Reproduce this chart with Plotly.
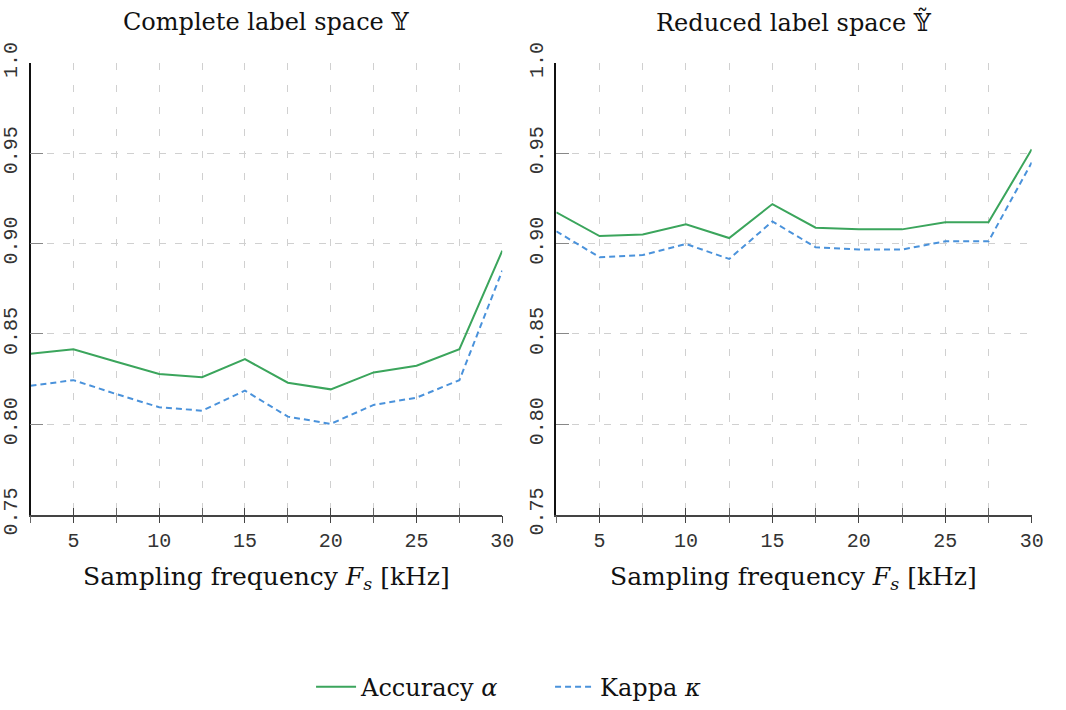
import plotly.graph_objects as go

# ---- data ----
fs_khz = [2.5, 5, 7.5, 10, 12.5, 15, 17.5, 20, 22.5, 25, 27.5, 30]

acc_complete = [0.839, 0.8415, 0.8346, 0.8278, 0.826, 0.836, 0.823, 0.8193, 0.8287, 0.8324, 0.8415, 0.8961]
kappa_complete = [0.8213, 0.8244, 0.8167, 0.8094, 0.8075, 0.8186, 0.8042, 0.8002, 0.8107, 0.8147, 0.8244, 0.8851]

acc_reduced = [0.9173, 0.9042, 0.9051, 0.9107, 0.9031, 0.9219, 0.9088, 0.9079, 0.9079, 0.9118, 0.9118, 0.9522]
kappa_reduced = [0.9068, 0.8925, 0.8937, 0.8998, 0.8915, 0.9123, 0.898, 0.8967, 0.8967, 0.9013, 0.9013, 0.9449]

x_tickvals = [5, 10, 15, 20, 25, 30]
x_ticktext = ["5", "10", "15", "20", "25", "30"]
y_tickvals = [0.75, 0.80, 0.85, 0.90, 0.95, 1.0]
y_ticktext = ["0.75", "0.80", "0.85", "0.90", "0.95", "1.0"]

panel_titles = ["Complete label space \U0001D550", "Reduced label space \U0001D550\u0303"]
x_title = "Sampling frequency <i>F</i><sub><i>s</i></sub> [kHz]"
series_names = ["Accuracy <i>\u03b1</i>", "Kappa <i>\u03ba</i>"]

GREEN = "#3ba55c"
BLUE = "#4a92db"
SERIF = "DejaVu Serif, Liberation Serif, serif"
MONO = "Liberation Mono, DejaVu Sans Mono, monospace"

W, H = 1066, 710
x_domains = [[30.5 / W, 502.3 / W], [556.3 / W, 1031.7 / W]]
y_domain = [(H - 516.7) / H, (H - 63.3) / H]

fig = go.Figure()

panels = [(acc_complete, kappa_complete), (acc_reduced, kappa_reduced)]
for i, (acc, kap) in enumerate(panels):
    xa = "x" if i == 0 else "x2"
    ya = "y" if i == 0 else "y2"
    fig.add_trace(go.Scatter(x=fs_khz, y=acc, mode="lines", name=series_names[0],
                             line=dict(color=GREEN, width=2), xaxis=xa, yaxis=ya,
                             showlegend=(i == 0), legendgroup="acc"))
    fig.add_trace(go.Scatter(x=fs_khz, y=kap, mode="lines", name=series_names[1],
                             line=dict(color=BLUE, width=2, dash="6px,4px"), xaxis=xa, yaxis=ya,
                             showlegend=(i == 0), legendgroup="kap"))
    # empty traces that activate overlay axes (inner half of the crossing ticks)
    fig.add_trace(go.Scatter(x=[None], y=[None], mode="lines", xaxis="x3" if i == 0 else "x4", yaxis=ya,
                             showlegend=False, hoverinfo="skip"))

grid_common = dict(gridcolor="#d0d0d0", gridwidth=1)

def xaxis_main(dom, anchor):
    return dict(
        domain=dom, anchor=anchor, range=[2.5, 30], autorange=False,
        tickmode="array", tickvals=x_tickvals, ticktext=x_ticktext,
        ticks="outside", ticklen=7, tickwidth=1.2, tickcolor="#444",
        showline=True, linecolor="#444", linewidth=1.5,
        showgrid=True, griddash="7px,15px", **grid_common,
        minor=dict(tick0=0, dtick=2.5, ticks="outside", ticklen=7, tickwidth=1.2, tickcolor="#666",
                   showgrid=True, griddash="7px,15px", gridcolor="#d0d0d0", gridwidth=1),
        tickfont=dict(family=MONO, size=20, color="#333"),
        zeroline=False, automargin=False, fixedrange=True,
    )

def xaxis_overlay(dom, anchor, over):
    return dict(
        domain=dom, anchor=anchor, overlaying=over, range=[2.5, 30], autorange=False,
        tickmode="array", tickvals=x_tickvals, ticks="inside", ticklen=7, tickwidth=1.2,
        tickcolor="#444", showticklabels=False, showline=False, showgrid=False,
        minor=dict(tick0=0, dtick=2.5, ticks="inside", ticklen=7, tickwidth=1.2, tickcolor="#666",
                   showgrid=False),
        zeroline=False, automargin=False, fixedrange=True,
    )

def yaxis_main(anchor):
    return dict(
        domain=y_domain, anchor=anchor, range=[0.75, 1.0], autorange=False,
        tickmode="array", tickvals=y_tickvals, ticktext=y_ticktext,
        ticks="inside", ticklen=13, tickwidth=1.2, tickcolor="#888",
        tickangle=-90, ticklabelstandoff=4,
        showline=True, linecolor="#111", linewidth=1.5,
        showgrid=True, griddash="7px,9px", **grid_common,
        tickfont=dict(family=MONO, size=20, color="#333"),
        zeroline=False, automargin=False, fixedrange=True,
    )

annotations = []
for i in range(2):
    cx = (x_domains[i][0] + x_domains[i][1]) / 2
    annotations.append(dict(text=panel_titles[i], x=cx, y=(H - 22) / H, xref="paper", yref="paper",
                            xanchor="center", yanchor="middle", showarrow=False,
                            font=dict(family=SERIF, size=24, color="#111")))
    annotations.append(dict(text=x_title, x=cx, y=(H - 580) / H, xref="paper", yref="paper",
                            xanchor="center", yanchor="middle", showarrow=False,
                            font=dict(family=SERIF, size=25, color="#111")))

fig.update_layout(
    width=W, height=H,
    margin=dict(l=0, r=0, t=0, b=0),
    paper_bgcolor="white", plot_bgcolor="white",
    xaxis=xaxis_main(x_domains[0], "y"),
    xaxis2=xaxis_main(x_domains[1], "y2"),
    xaxis3=xaxis_overlay(x_domains[0], "y", "x"),
    xaxis4=xaxis_overlay(x_domains[1], "y2", "x2"),
    yaxis=yaxis_main("x"),
    yaxis2=yaxis_main("x2"),
    annotations=annotations,
    showlegend=True,
    legend=dict(orientation="h", x=0.516, xanchor="center", y=(H - 690) / H, yanchor="middle",
                font=dict(family=SERIF, size=24, color="#111"), itemwidth=40,
                entrywidth=184, entrywidthmode="pixels",
                tracegroupgap=0, bgcolor="rgba(0,0,0,0)"),
)

fig.write_html("out.html")
